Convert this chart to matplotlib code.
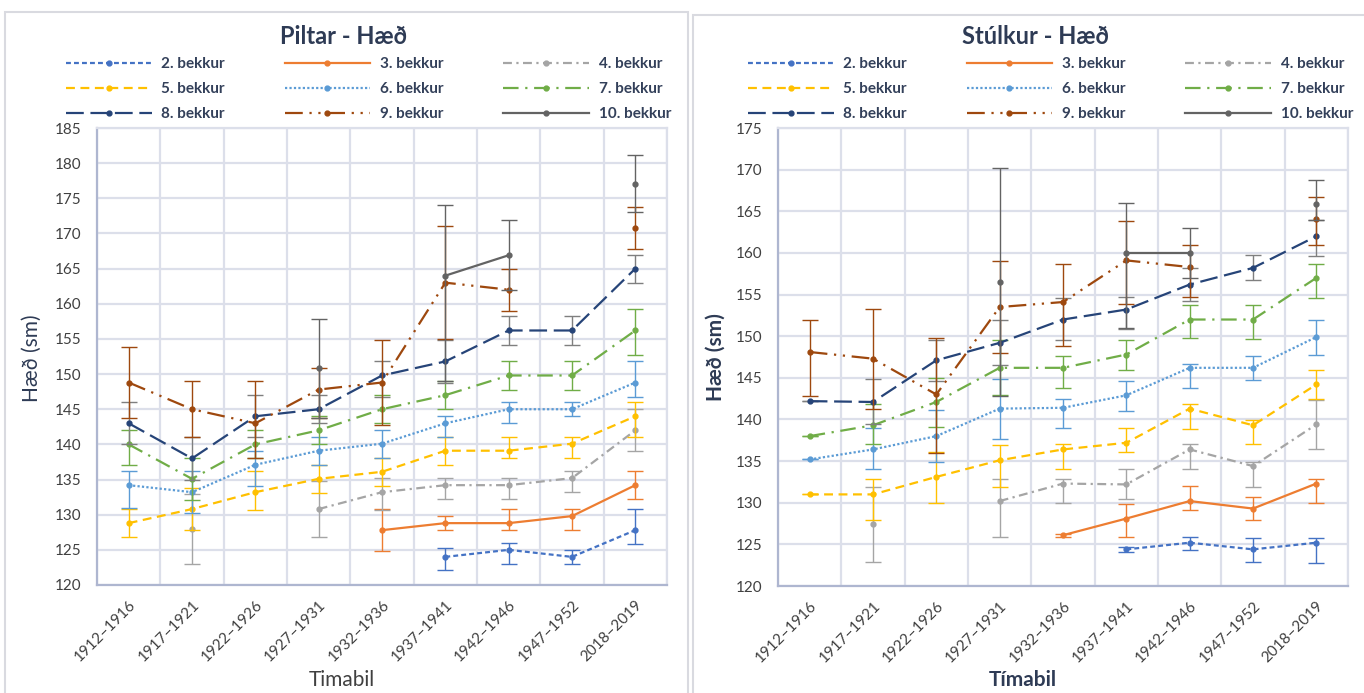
import numpy as np
import matplotlib
matplotlib.use("Agg")
import matplotlib.pyplot as plt
from matplotlib.patches import Rectangle

plt.rcParams["font.family"] = ["Lato", "DejaVu Sans"]

n = np.nan

timabil = ["1912–1916", "1917–1921", "1922–1926", "1927–1931", "1932–1936",
           "1937–1941", "1942–1946", "1947–1952", "2018–2019"]
bekkir = ["2. bekkur", "3. bekkur", "4. bekkur", "5. bekkur", "6. bekkur",
          "7. bekkur", "8. bekkur", "9. bekkur", "10. bekkur"]

# Piltar: meðalhæð (sm), ein lína fyrir hvern bekk
piltar_haed = [
    [n, n, n, n, n, 124.0, 125.0, 124.0, 127.8],
    [n, n, n, n, 127.8, 128.8, 128.8, 129.8, 134.2],
    [n, 128.0, n, 130.8, 133.2, 134.2, 134.2, 135.2, 142.0],
    [128.8, 130.8, 133.2, 135.1, 136.1, 139.1, 139.1, 140.1, 144.0],
    [134.2, 133.2, 137.1, 139.1, 140.1, 143.0, 145.0, 145.0, 148.8],
    [140.0, 135.1, 140.0, 142.0, 145.0, 147.0, 149.8, 149.8, 156.2],
    [143.0, 138.0, 144.0, 145.0, 149.8, 151.8, 156.2, 156.2, 165.0],
    [148.8, 145.0, 143.0, 147.8, 148.8, 163.0, 162.0, n, 170.8],
    [n, n, n, 150.8, n, 164.0, 166.9, n, 177.1],
]
piltar_villa_nidur = [
    [0, 0, 0, 0, 0, 1.8, 2.0, 1.0, 2.0],
    [0, 0, 0, 0, 3.0, 1.0, 1.0, 2.0, 2.0],
    [0, 5.0, 0, 4.0, 2.5, 2.0, 2.0, 2.0, 3.0],
    [2.0, 3.0, 2.5, 2.0, 2.0, 2.0, 1.0, 2.0, 3.0],
    [3.3, 3.0, 3.0, 2.0, 2.0, 2.0, 2.0, 1.0, 2.0],
    [3.0, 3.0, 2.0, 2.0, 2.0, 2.0, 2.0, 2.0, 3.5],
    [3.0, 3.0, 3.0, 2.0, 3.0, 3.0, 2.0, 2.0, 2.0],
    [5.0, 4.0, 5.0, 4.0, 6.0, 8.0, 3.0, 0, 3.0],
    [0, 0, 0, 7.0, 0, 15.0, 5.0, 0, 4.0],
]
piltar_villa_upp = [
    [0, 0, 0, 0, 0, 1.2, 1.0, 1.0, 3.0],
    [0, 0, 0, 0, 3.0, 1.0, 2.0, 1.0, 2.0],
    [0, 5.0, 0, 4.0, 2.0, 1.0, 1.0, 1.0, 3.0],
    [2.0, 3.0, 3.0, 2.0, 2.0, 2.0, 2.0, 1.0, 2.0],
    [2.0, 3.0, 2.0, 2.0, 2.0, 1.0, 1.0, 1.0, 3.0],
    [2.0, 3.0, 2.0, 2.0, 2.0, 2.0, 2.0, 2.0, 3.0],
    [3.0, 3.0, 3.0, 2.0, 2.0, 3.0, 2.0, 2.0, 2.0],
    [5.0, 4.0, 6.0, 3.0, 6.0, 8.0, 3.0, 0, 3.0],
    [0, 0, 0, 7.0, 0, 10.0, 5.0, 0, 4.0],
]

# Stúlkur: meðalhæð (sm)
stulkur_haed = [
    [n, n, n, n, n, 124.4, 125.2, 124.4, 125.2],
    [n, n, n, n, 126.1, 128.1, 130.2, 129.3, 132.3],
    [n, 127.4, n, 130.2, 132.3, 132.2, 136.4, 134.4, 139.4],
    [131.0, 131.0, 133.1, 135.1, 136.4, 137.2, 141.3, 139.3, 144.2],
    [135.2, 136.4, 138.0, 141.3, 141.4, 142.9, 146.2, 146.2, 149.9],
    [138.0, 139.3, 142.1, 146.2, 146.2, 147.8, 152.0, 152.0, 157.0],
    [142.2, 142.1, 147.1, 149.2, 152.0, 153.2, 156.2, 158.2, 162.0],
    [148.1, 147.3, 143.0, 153.5, 154.1, 159.1, 158.3, n, 164.1],
    [n, n, n, 156.5, n, 160.0, 160.0, n, 165.9],
]
stulkur_villa_nidur = [
    [0, 0, 0, 0, 0, 0.3, 0.9, 1.5, 2.4],
    [0, 0, 0, 0, 0.2, 2.2, 1.1, 1.4, 2.3],
    [0, 4.5, 0, 4.3, 2.3, 1.7, 2.4, 2.5, 3.0],
    [0, 3.1, 3.1, 3.2, 2.4, 1.1, 2.4, 2.3, 1.7],
    [0, 2.4, 3.1, 3.6, 2.4, 1.9, 2.4, 1.5, 2.2],
    [0, 2.3, 3.0, 3.3, 2.4, 1.9, 2.2, 2.3, 2.4],
    [0, 2.7, 2.5, 2.7, 2.4, 2.3, 2.0, 1.5, 2.4],
    [5.3, 6.0, 7.0, 5.5, 5.3, 5.2, 3.6, 0, 3.2],
    [0, 0, 0, 13.7, 0, 9.0, 3.0, 0, 2.0],
]
stulkur_villa_upp = [
    [0, 0, 0, 0, 0, 0.3, 0.7, 1.4, 0.6],
    [0, 0, 0, 0, 0.2, 1.8, 1.8, 1.4, 0.6],
    [0, 4.5, 0, 2.6, 0.5, 1.8, 0.6, 0.5, 2.9],
    [0, 1.9, 3.0, 1.8, 0.6, 1.8, 0.6, 0.6, 1.7],
    [0, 2.6, 3.1, 3.6, 1.1, 1.7, 0.5, 1.4, 2.0],
    [0, 2.6, 2.9, 3.3, 1.4, 1.8, 1.8, 1.8, 1.7],
    [0, 2.7, 2.5, 2.7, 2.6, 1.5, 2.0, 1.5, 2.0],
    [3.9, 6.0, 6.8, 5.5, 4.6, 4.7, 2.6, 0, 2.6],
    [0, 0, 0, 13.7, 0, 6.0, 3.0, 0, 2.9],
]

# Excel-style colours and dash patterns for each bekkur
litir = ["#4472C4", "#ED7D31", "#A5A5A5", "#FFC000", "#5B9BD5",
         "#70AD47", "#264478", "#9E480E", "#636363"]
villulitir = ["#4472C4", "#ED7D31", "#A5A5A5", "#FFC000", "#5B9BD5",
              "#70AD47", "#7F7F7F", "#9E480E", "#636363"]
linustill = [(0, (2.2, 1.4)), "-", (0, (4, 2, 1, 2)), (0, (4, 2.5)), (0, (1, 1)),
             (0, (7, 3, 1, 3)), (0, (8, 3)), (0, (8, 3, 1, 3, 1, 3)), "-"]

TITLE_COLOR = "#2E3B55"
TEXT_COLOR = "#404040"
GRID_COLOR = "#DCDFEA"
SPINE_COLOR = "#AEB6D0"


def teikna(ax, haed, nidur, upp, ymax):
    x = np.arange(len(timabil))
    handles = []
    for i, label in enumerate(bekkir):
        y = np.array(haed[i], dtype=float)
        err = np.array([nidur[i], upp[i]], dtype=float)
        mask = ~np.isnan(y)
        ax.errorbar(x[mask], y[mask], yerr=err[:, mask], fmt="none",
                    ecolor=villulitir[i], elinewidth=1.0, capsize=5.5,
                    capthick=1.0, zorder=2 + i)
        (line,) = ax.plot(x, y, color=litir[i], linestyle=linustill[i],
                          linewidth=1.6, marker="o", markersize=3.5,
                          label=label, zorder=2.5 + i)
        handles.append(line)

    ax.set_xlim(-0.5, len(timabil) - 0.5)
    ax.set_ylim(120, ymax)
    ax.set_yticks(np.arange(120, ymax + 1, 5))
    ax.set_xticks(x)
    ax.set_xticks(np.arange(-0.5, len(timabil)), minor=True)
    ax.set_xticklabels(timabil, rotation=45, ha="right", rotation_mode="anchor",
                       fontsize=11, color=TEXT_COLOR)
    ax.tick_params(axis="y", length=0, pad=11, labelsize=11, labelcolor=TEXT_COLOR)
    ax.tick_params(axis="x", which="both", length=0, pad=9)
    ax.grid(axis="y", which="major", color=GRID_COLOR, linewidth=1.6, zorder=0)
    ax.grid(axis="x", which="minor", color=GRID_COLOR, linewidth=1.6, zorder=0)
    ax.set_axisbelow(True)
    for side in ("top", "right"):
        ax.spines[side].set_color(GRID_COLOR)
        ax.spines[side].set_linewidth(1.6)
    for side in ("left", "bottom"):
        ax.spines[side].set_color(SPINE_COLOR)
        ax.spines[side].set_linewidth(1.6)
    return handles


fig = plt.figure(figsize=(13.64, 6.93), dpi=100)
W, H = 1364.0, 693.0


def px(x0, y_top, x1, y_bottom):
    return [x0 / W, 1 - y_bottom / H, (x1 - x0) / W, (y_bottom - y_top) / H]


# panel frames
fig.add_artist(Rectangle((5 / W, -0.01), 683 / W, 1.01 - 12 / H, transform=fig.transFigure,
                         fill=False, edgecolor="#D9DAE0", linewidth=1.5))
fig.add_artist(Rectangle((693 / W, -0.01), 680 / W, 1.01 - 15 / H, transform=fig.transFigure,
                         fill=False, edgecolor="#D9DAE0", linewidth=1.5))

ax1 = fig.add_axes(px(97, 128, 667, 585))
ax2 = fig.add_axes(px(778, 128, 1348, 586))

h1 = teikna(ax1, piltar_haed, piltar_villa_nidur, piltar_villa_upp, 185)
h2 = teikna(ax2, stulkur_haed, stulkur_villa_nidur, stulkur_villa_upp, 175)

# legend rows read 2,3,4 / 5,6,7 / 8,9,10
order = [0, 3, 6, 1, 4, 7, 2, 5, 8]
for handles, x0 in ((h1, 66), (h2, 748)):
    fig.legend([handles[k] for k in order], [bekkir[k] for k in order],
               loc="upper left", bbox_to_anchor=(x0 / W, 1 - 57 / H),
               ncol=3, frameon=False, borderpad=0, borderaxespad=0,
               handlelength=5.6, handletextpad=0.65, columnspacing=3.9,
               labelspacing=0.72, labelcolor="#33405A",
               prop={"weight": "bold", "size": 11})

fig.text(344 / W, 1 - 37 / H, "Piltar - Hæð", ha="center", va="center",
         fontsize=17, fontweight="bold", color=TITLE_COLOR)
fig.text(1035 / W, 1 - 37 / H, "Stúlkur - Hæð", ha="center", va="center",
         fontsize=17, fontweight="bold", color=TITLE_COLOR)

fig.text(32 / W, 1 - 358 / H, "Hæð (sm)", ha="center", va="center", rotation=90,
         fontsize=15, color=TITLE_COLOR)
fig.text(716 / W, 1 - 357 / H, "Hæð (sm)", ha="center", va="center", rotation=90,
         fontsize=15, fontweight="bold", color=TITLE_COLOR)
fig.text(342 / W, 1 - 680 / H, "Timabil", ha="center", va="center",
         fontsize=15, color=TEXT_COLOR)
fig.text(1023 / W, 1 - 680 / H, "Tímabil", ha="center", va="center",
         fontsize=15, fontweight="bold", color=TITLE_COLOR)

fig.savefig("out.png", dpi=100)
